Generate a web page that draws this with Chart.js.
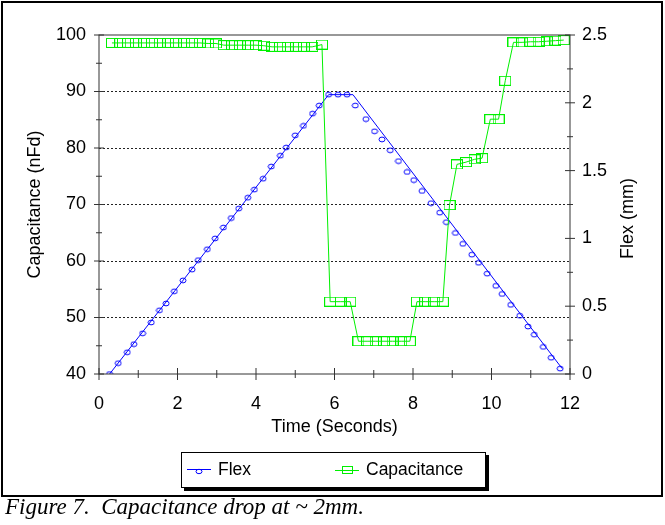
<!DOCTYPE html>
<html>
<head>
<meta charset="utf-8">
<script src="https://cdn.jsdelivr.net/npm/chart.js@4.4.1/dist/chart.umd.min.js"></script>
<style>
  body { margin: 0; background: #fff; font-family: "Liberation Sans", Arial, sans-serif; }
  #box { position: absolute; left: 1px; top: 1px; width: 658px; height: 492px; border: 2px solid #000; }
  #chart { position: absolute; left: 0; top: 0; }
  #legend { position: absolute; left: 181px; top: 452px; width: 303px; height: 34px; border: 1px solid #000;
            box-shadow: 3px 3px 0 #000; background: #fff; font-size: 17.5px; color: #000; }
  #legend svg, #legend span { position: absolute; }
  #caption { position: absolute; left: 5px; top: 494px; white-space: pre; color: #000;
             font: italic 23px "Liberation Serif", "Times New Roman", serif; }
</style>
</head>
<body>
<div id="box"></div>
<canvas id="chart" width="665" height="525"></canvas>
<div id="legend">
  <svg style="left:5px;top:11px" width="26" height="12">
    <line x1="0" y1="5.5" x2="24" y2="5.5" stroke="#0000ff" stroke-width="1"/>
    <ellipse cx="12" cy="7.5" rx="3" ry="2.2" fill="none" stroke="#0000ff" stroke-width="1"/>
  </svg>
  <span style="left:36px;top:6px">Flex</span>
  <svg style="left:153px;top:11px" width="26" height="12">
    <line x1="0" y1="6.5" x2="24" y2="6.5" stroke="#00f000" stroke-width="1"/>
    <rect x="7.5" y="2.5" width="10" height="7" fill="none" stroke="#00f000" stroke-width="1"/>
  </svg>
  <span style="left:184px;top:6px">Capacitance</span>
</div>
<div id="caption">Figure 7.  Capacitance drop at ~ 2mm.</div>
<script>
// tick labels
const timeTicks = [0, 2, 4, 6, 8, 10, 12];
const capTicks = [40, 50, 60, 70, 80, 90, 100];
const flexTicks = [0, 0.5, 1, 1.5, 2, 2.5];

// Flex markers (mm)
const flexTime = [0.27, 0.49, 0.72, 0.89, 1.11, 1.33, 1.54, 1.71, 1.92, 2.14, 2.37, 2.53, 2.76, 2.96,
    3.17, 3.37, 3.56, 3.79, 3.96, 4.18, 4.39, 4.62, 4.77, 5.00, 5.21, 5.44, 5.61, 5.85, 6.09, 6.32,
    6.53, 6.80, 7.02, 7.21, 7.42, 7.63, 7.85, 8.02, 8.23, 8.46, 8.68, 8.85, 9.08, 9.27, 9.50, 9.67,
    9.89, 10.11, 10.27, 10.49, 10.72, 10.93, 11.09, 11.32, 11.52, 11.75];
const flexMm = [0.00, 0.08, 0.16, 0.22, 0.30, 0.38, 0.47, 0.52, 0.61, 0.69, 0.77, 0.84, 0.92, 1.00,
    1.08, 1.15, 1.22, 1.30, 1.36, 1.44, 1.53, 1.61, 1.67, 1.76, 1.83, 1.92, 1.98, 2.06, 2.06, 2.06,
    1.98, 1.88, 1.79, 1.73, 1.65, 1.57, 1.49, 1.43, 1.35, 1.26, 1.19, 1.12, 1.04, 0.96, 0.88, 0.82,
    0.74, 0.65, 0.59, 0.51, 0.43, 0.35, 0.29, 0.20, 0.12, 0.04];

// Flex fitted line
const flexLineTime = [0.27, 5.85, 6.47, 11.80];
const flexLineMm = [0.00, 2.06, 2.06, 0.04];

// Capacitance (nFd)
const capTime = [0.33, 0.54, 0.74, 0.94, 1.15, 1.35, 1.55, 1.76, 1.96, 2.17, 2.37, 2.57, 2.78, 2.98,
    3.18, 3.39, 3.59, 3.80, 4.00, 4.20, 4.41, 4.61, 4.81, 5.02, 5.22, 5.43, 5.68,
    5.89, 6.16, 6.40,
    6.61, 6.83, 7.05, 7.26, 7.48, 7.70, 7.92,
    8.10, 8.31, 8.54, 8.76,
    8.93, 9.12, 9.35, 9.57, 9.76, 9.97, 10.18, 10.35,
    10.56, 10.78, 10.99, 11.20, 11.41, 11.63, 11.84];
const capNfd = [98.6, 98.6, 98.6, 98.6, 98.6, 98.6, 98.6, 98.6, 98.6, 98.6, 98.6, 98.6, 98.5, 98.5,
    98.2, 98.2, 98.2, 98.2, 98.2, 98.1, 97.9, 97.9, 97.9, 97.9, 97.9, 97.9, 98.3,
    52.8, 52.8, 52.8,
    45.8, 45.8, 45.8, 45.8, 45.8, 45.8, 45.8,
    52.8, 52.8, 52.8, 52.8,
    69.9, 77.1, 77.5, 78.0, 78.2, 85.1, 85.1, 91.9,
    98.7, 98.7, 98.8, 98.8, 98.9, 99.0, 99.1];

const BLUE = '#0000ff';
const GREEN = '#00f000';
const AXIS = '#333';
const FONT = '"Liberation Sans", Arial, sans-serif';

function pts(xs, ys) {
    return xs.map((x, i) => ({x: x, y: ys[i]}));
}

// hollow markers as small images
const circleMark = document.createElement('canvas');
circleMark.width = 8; circleMark.height = 7;
let c = circleMark.getContext('2d');
c.strokeStyle = BLUE; c.lineWidth = 1;
c.beginPath(); c.ellipse(4, 3.5, 3, 2.4, 0, 0, Math.PI * 2); c.stroke();

const squareMark = document.createElement('canvas');
squareMark.width = 12; squareMark.height = 10;
c = squareMark.getContext('2d');
c.strokeStyle = GREEN; c.lineWidth = 1;
c.strokeRect(0.5, 0.5, 11, 9);

function minorValues(ticks) {
    let out = [];
    for (let i = 1; i < ticks.length; i++) out.push((ticks[i - 1] + ticks[i]) / 2);
    return out;
}

const frameAndTicks = {
    id: 'frameAndTicks',
    afterDraw(chart) {
        const {ctx, chartArea: a, scales} = chart;
        ctx.save();
        ctx.strokeStyle = AXIS;
        ctx.lineWidth = 1;
        ctx.strokeRect(a.left, a.top, a.right - a.left, a.bottom - a.top);
        ctx.beginPath();
        timeTicks.forEach(v => {
            const x = scales.x.getPixelForValue(v);
            ctx.moveTo(x, a.bottom - 6); ctx.lineTo(x, a.bottom + 6);
        });
        minorValues(timeTicks).forEach(v => {
            const x = scales.x.getPixelForValue(v);
            ctx.moveTo(x, a.bottom - 4); ctx.lineTo(x, a.bottom + 4);
        });
        capTicks.forEach(v => {
            const y = scales.y.getPixelForValue(v);
            ctx.moveTo(a.left - 5, y); ctx.lineTo(a.left + 5, y);
        });
        minorValues(capTicks).forEach(v => {
            const y = scales.y.getPixelForValue(v);
            ctx.moveTo(a.left - 3, y); ctx.lineTo(a.left + 3, y);
        });
        flexTicks.forEach(v => {
            const y = scales.y1.getPixelForValue(v);
            ctx.moveTo(a.right - 5, y); ctx.lineTo(a.right + 5, y);
        });
        minorValues(flexTicks).forEach(v => {
            const y = scales.y1.getPixelForValue(v);
            ctx.moveTo(a.right - 3, y); ctx.lineTo(a.right + 3, y);
        });
        ctx.stroke();

        // right axis title, reads bottom to top like the left one
        ctx.fillStyle = '#000';
        ctx.font = '18px ' + FONT;
        ctx.textAlign = 'center';
        ctx.textBaseline = 'middle';
        ctx.translate(628, (a.top + a.bottom) / 2 + 14);
        ctx.rotate(-Math.PI / 2);
        ctx.fillText('Flex (mm)', 0, 0);
        ctx.restore();
    }
};

Chart.defaults.font.family = FONT;
Chart.defaults.font.size = 18;
Chart.defaults.color = '#000';

new Chart(document.getElementById('chart'), {
    type: 'scatter',
    data: {
        datasets: [
            {
                label: 'Capacitance',
                data: pts(capTime, capNfd),
                yAxisID: 'y',
                showLine: true,
                borderColor: GREEN,
                borderWidth: 1,
                pointStyle: squareMark,
                pointRadius: 5,
            },
            {
                label: 'Flex',
                data: pts(flexTime, flexMm),
                yAxisID: 'y1',
                showLine: false,
                pointStyle: circleMark,
                pointRadius: 4,
            },
            {
                label: 'Flex line',
                data: pts(flexLineTime, flexLineMm),
                yAxisID: 'y1',
                showLine: true,
                borderColor: BLUE,
                borderWidth: 1,
                pointRadius: 0,
            },
        ]
    },
    options: {
        responsive: false,
        animation: false,
        devicePixelRatio: 1,
        layout: {padding: {top: 35, left: 0, right: 0, bottom: 0}},
        plugins: {
            legend: {display: false},
            tooltip: {enabled: false},
        },
        scales: {
            x: {
                type: 'linear',
                position: 'bottom',
                min: 0,
                max: 12,
                afterBuildTicks: s => { s.ticks = timeTicks.map(v => ({value: v})); },
                afterFit: s => { s.height = 151; },
                ticks: {padding: 19, maxRotation: 0, autoSkip: false},
                grid: {display: false, drawTicks: false},
                border: {display: false},
                title: {display: true, text: 'Time (Seconds)', padding: {top: 0, bottom: 87}},
            },
            y: {
                position: 'left',
                min: 40,
                max: 100,
                afterBuildTicks: s => { s.ticks = capTicks.map(v => ({value: v})); },
                afterFit: s => { s.width = 99; },
                ticks: {padding: 13},
                grid: {
                    drawTicks: false,
                    lineWidth: 1,
                    color: ctx => (ctx.tick && (ctx.tick.value === 40 || ctx.tick.value === 100)) ? 'rgba(0,0,0,0)' : '#222',
                },
                border: {display: false, dash: [2, 2]},
                title: {display: true, text: 'Capacitance (nFd)', padding: {top: 24, bottom: 0}},
            },
            y1: {
                position: 'right',
                min: 0,
                max: 2.5,
                afterBuildTicks: s => { s.ticks = flexTicks.map(v => ({value: v})); },
                afterFit: s => { s.width = 95; },
                ticks: {padding: 12, callback: v => String(v)},
                grid: {display: false, drawTicks: false},
                border: {display: false},
            },
        }
    },
    plugins: [frameAndTicks]
});
</script>
</body>
</html>
